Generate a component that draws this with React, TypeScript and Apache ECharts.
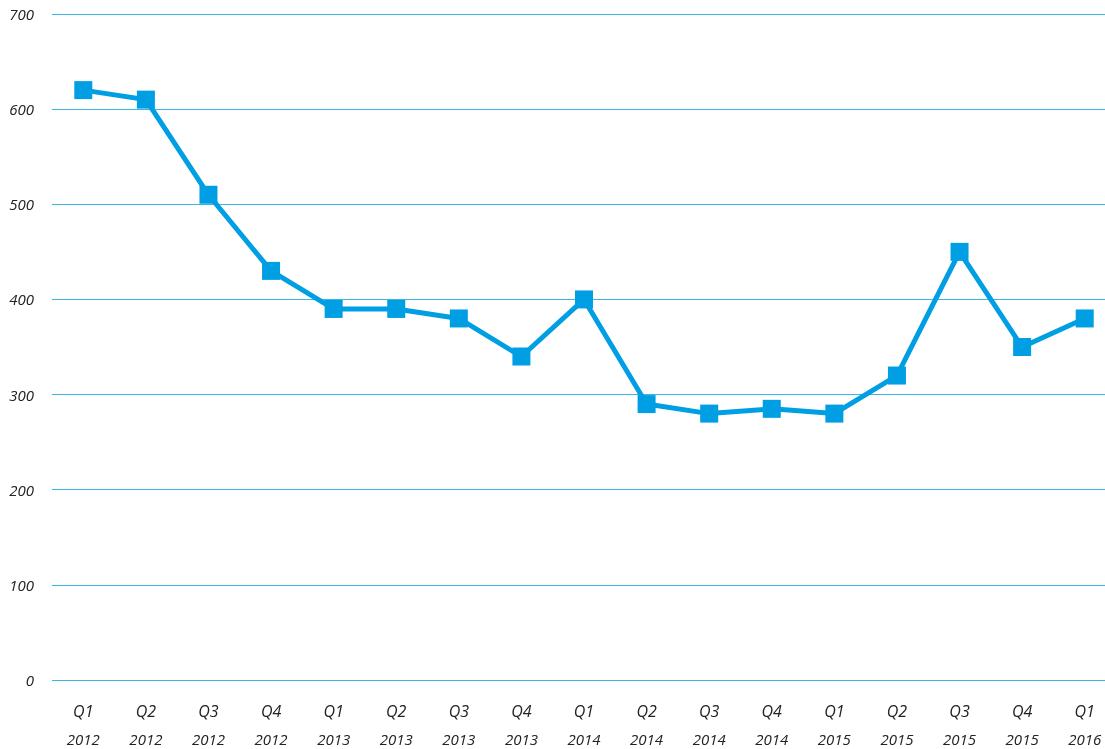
import React, { useEffect, useRef } from "react";
import * as echarts from "echarts";

const quarters = ["Q1", "Q2", "Q3", "Q4", "Q1", "Q2", "Q3", "Q4", "Q1", "Q2", "Q3", "Q4", "Q1", "Q2", "Q3", "Q4", "Q1"];
const years = ["2012", "2012", "2012", "2012", "2013", "2013", "2013", "2013", "2014", "2014", "2014", "2014", "2015", "2015", "2015", "2015", "2016"];
const values = [620, 610, 510, 430, 390, 390, 380, 340, 400, 290, 280, 285, 280, 320, 450, 350, 380];
const yTicks = { min: 0, max: 700, interval: 100 };

const categories = quarters.map((q, i) => `${q}\n${years[i]}`);

export default function App() {
  const ref = useRef<HTMLDivElement>(null);
  useEffect(() => {
    const chart = echarts.init(ref.current!, undefined, { renderer: "svg" });
    const font = "'Open Sans', sans-serif";
    chart.setOption({
      animation: false,
      grid: { left: 52, top: 14, bottom: 69, right: 0 },
      xAxis: {
        type: "category",
        data: categories,
        boundaryGap: true,
        axisLine: { show: false },
        axisTick: { show: false },
        axisLabel: {
          margin: 13,
          formatter: (v: string) => {
            const [q, y] = v.split("\n");
            return `{q|${q}}\n{y|${y}}`;
          },
          rich: {
            q: { fontFamily: font, fontStyle: "italic", fontSize: 16, color: "#222", lineHeight: 36 },
            y: { fontFamily: font, fontStyle: "italic", fontSize: 15, color: "#222", lineHeight: 20 },
          },
        },
      },
      yAxis: {
        type: "value",
        min: yTicks.min,
        max: yTicks.max,
        interval: yTicks.interval,
        axisLine: { show: false },
        axisTick: { show: false },
        axisLabel: {
          margin: 18,
          fontFamily: font,
          fontStyle: "italic",
          fontSize: 15,
          color: "#222",
        },
        splitLine: { lineStyle: { color: "#3db3e6", width: 1 } },
      },
      series: [
        {
          type: "line",
          data: values,
          symbol: "rect",
          symbolSize: 18,
          lineStyle: { color: "#009fe3", width: 5 },
          itemStyle: { color: "#009fe3" },
        },
      ],
    });
    return () => chart.dispose();
  }, []);
  return (
    <div style={{ position: "fixed", left: 0, top: 0, width: 1105, height: 749, overflow: "hidden" }}>
      <div ref={ref} style={{ width: 1116, height: 749 }} />
    </div>
  );
}
